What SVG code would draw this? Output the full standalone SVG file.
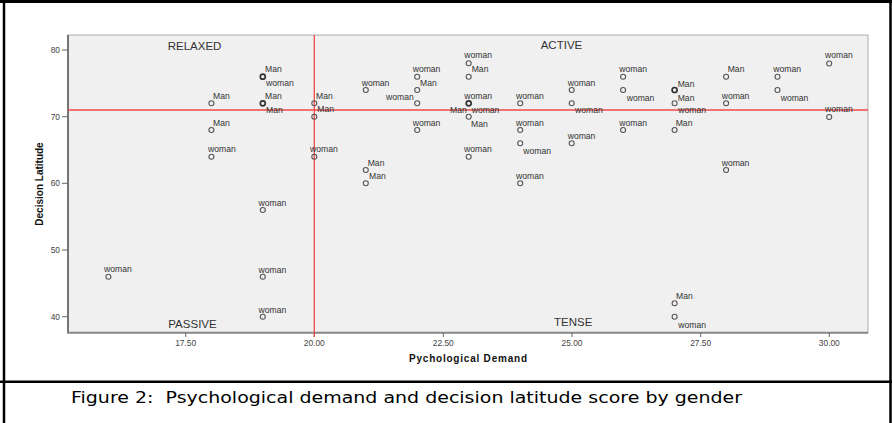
<svg xmlns="http://www.w3.org/2000/svg" width="892" height="423" viewBox="0 0 892 423">
<style>
.lbl{font-family:"Liberation Sans",Arial,sans-serif;font-size:8.6px;fill:#333}
.quad{font-family:"Liberation Sans",Arial,sans-serif;font-size:11.5px;fill:#333}
.tick{font-family:"Liberation Sans",Arial,sans-serif;font-size:8.4px;fill:#444}
.ttl{font-family:"Liberation Sans",Arial,sans-serif;font-size:10px;font-weight:bold;fill:#111}
.pt{fill:none;stroke:#555;stroke-width:1.1}
.ptb{fill:none;stroke:#333;stroke-width:1.7}
.tk{stroke:#666;stroke-width:1}
.ref{stroke:#f04848;stroke-width:1.3}
</style>
<rect x="0" y="0" width="892" height="423" fill="#ffffff"/>
<g id="frame" fill="none" stroke="#000">
<line x1="0" y1="1.5" x2="892" y2="1.5" stroke-width="3"/>
<line x1="4" y1="0" x2="4" y2="423" stroke-width="2.5"/>
<line x1="890.5" y1="0" x2="890.5" y2="423" stroke-width="2.5"/>
<line x1="0" y1="381.7" x2="892" y2="381.7" stroke-width="2.5"/>
</g>
<g id="plot-area">
<rect x="68" y="35" width="800" height="297.7" fill="#f0f0f0" stroke="#999" stroke-width="0.8"/>
<line x1="68" y1="35" x2="68" y2="333" stroke="#555" stroke-width="1.5"/>
<line x1="67" y1="332.7" x2="868" y2="332.7" stroke="#888" stroke-width="2"/>
</g>
<g id="y-axis">
<line class="tk" x1="62" y1="50" x2="68" y2="50"/>
<line class="tk" x1="62" y1="116.7" x2="68" y2="116.7"/>
<line class="tk" x1="62" y1="183.3" x2="68" y2="183.3"/>
<line class="tk" x1="62" y1="250" x2="68" y2="250"/>
<line class="tk" x1="62" y1="316.7" x2="68" y2="316.7"/>
<text class="tick" x="60" y="53" text-anchor="end">80</text>
<text class="tick" x="60" y="119.7" text-anchor="end">70</text>
<text class="tick" x="60" y="186.3" text-anchor="end">60</text>
<text class="tick" x="60" y="253" text-anchor="end">50</text>
<text class="tick" x="60" y="319.7" text-anchor="end">40</text>
<text class="ttl" transform="translate(43,184) rotate(-90)" text-anchor="middle">Decision Latitude</text>
</g>
<g id="x-axis">
<line class="tk" x1="185.7" y1="333" x2="185.7" y2="337"/>
<line class="tk" x1="314.3" y1="333" x2="314.3" y2="337"/>
<line class="tk" x1="443.3" y1="333" x2="443.3" y2="337"/>
<line class="tk" x1="572" y1="333" x2="572" y2="337"/>
<line class="tk" x1="700.7" y1="333" x2="700.7" y2="337"/>
<line class="tk" x1="829.3" y1="333" x2="829.3" y2="337"/>
<text class="tick" x="185.7" y="345.5" text-anchor="middle">17.50</text>
<text class="tick" x="314.3" y="345.5" text-anchor="middle">20.00</text>
<text class="tick" x="443.3" y="345.5" text-anchor="middle">22.50</text>
<text class="tick" x="572" y="345.5" text-anchor="middle">25.00</text>
<text class="tick" x="700.7" y="345.5" text-anchor="middle">27.50</text>
<text class="tick" x="829.3" y="345.5" text-anchor="middle">30.00</text>
<text class="ttl" x="468" y="362" text-anchor="middle" textLength="118" lengthAdjust="spacing">Pychological Demand</text>
</g>
<g id="reference-lines">
<line class="ref" x1="68" y1="110" x2="868" y2="110"/>
<line class="ref" x1="314.3" y1="35" x2="314.3" y2="337"/>
</g>
<g id="quadrants">
<text class="quad" x="167.7" y="50">RELAXED</text>
<text class="quad" x="540.7" y="49">ACTIVE</text>
<text class="quad" x="168.3" y="328">PASSIVE</text>
<text class="quad" x="554" y="325.7">TENSE</text>
</g>
<g id="points">
<circle class="pt" cx="108.4" cy="276.7" r="2.5"/>
<circle class="pt" cx="211.4" cy="103.3" r="2.5"/>
<circle class="pt" cx="211.4" cy="130" r="2.5"/>
<circle class="pt" cx="211.4" cy="156.7" r="2.5"/>
<circle class="ptb" cx="262.8" cy="76.7" r="2.5"/>
<circle class="ptb" cx="262.8" cy="103.3" r="2.5"/>
<circle class="pt" cx="262.8" cy="210" r="2.5"/>
<circle class="pt" cx="262.8" cy="276.7" r="2.5"/>
<circle class="pt" cx="262.8" cy="316.7" r="2.5"/>
<circle class="pt" cx="314.3" cy="103.3" r="2.5"/>
<circle class="pt" cx="314.3" cy="116.7" r="2.5"/>
<circle class="pt" cx="314.3" cy="156.7" r="2.5"/>
<circle class="pt" cx="365.8" cy="90" r="2.5"/>
<circle class="pt" cx="365.8" cy="170" r="2.5"/>
<circle class="pt" cx="365.8" cy="183.3" r="2.5"/>
<circle class="pt" cx="417.2" cy="76.7" r="2.5"/>
<circle class="pt" cx="417.2" cy="90" r="2.5"/>
<circle class="pt" cx="417.2" cy="103.3" r="2.5"/>
<circle class="pt" cx="417.2" cy="130" r="2.5"/>
<circle class="pt" cx="468.7" cy="63.3" r="2.5"/>
<circle class="pt" cx="468.7" cy="76.7" r="2.5"/>
<circle class="ptb" cx="468.7" cy="103.3" r="2.5"/>
<circle class="pt" cx="468.7" cy="116.7" r="2.5"/>
<circle class="pt" cx="468.7" cy="156.7" r="2.5"/>
<circle class="pt" cx="520.2" cy="103.3" r="2.5"/>
<circle class="pt" cx="520.2" cy="130" r="2.5"/>
<circle class="pt" cx="520.2" cy="143.3" r="2.5"/>
<circle class="pt" cx="520.2" cy="183.3" r="2.5"/>
<circle class="pt" cx="571.7" cy="90" r="2.5"/>
<circle class="pt" cx="571.7" cy="103.3" r="2.5"/>
<circle class="pt" cx="571.7" cy="143.3" r="2.5"/>
<circle class="pt" cx="623.1" cy="76.7" r="2.5"/>
<circle class="pt" cx="623.1" cy="90" r="2.5"/>
<circle class="pt" cx="623.1" cy="130" r="2.5"/>
<circle class="ptb" cx="674.6" cy="90" r="2.5"/>
<circle class="pt" cx="674.6" cy="103.3" r="2.5"/>
<circle class="pt" cx="674.6" cy="130" r="2.5"/>
<circle class="pt" cx="674.6" cy="303.3" r="2.5"/>
<circle class="pt" cx="674.6" cy="316.7" r="2.5"/>
<circle class="pt" cx="726.1" cy="76.7" r="2.5"/>
<circle class="pt" cx="726.1" cy="103.3" r="2.5"/>
<circle class="pt" cx="726.1" cy="170" r="2.5"/>
<circle class="pt" cx="777.5" cy="76.7" r="2.5"/>
<circle class="pt" cx="777.5" cy="90" r="2.5"/>
<circle class="pt" cx="829.2" cy="63.5" r="2.5"/>
<circle class="pt" cx="829.2" cy="117" r="2.5"/>
</g>
<g id="point-labels">
<text class="lbl" x="104" y="272">woman</text>
<text class="lbl" x="213" y="98.5">Man</text>
<text class="lbl" x="213" y="125.5">Man</text>
<text class="lbl" x="208" y="151.8">woman</text>
<text class="lbl" x="265" y="71.8">Man</text>
<text class="lbl" x="266" y="86.3">woman</text>
<text class="lbl" x="265" y="98.5">Man</text>
<text class="lbl" x="266" y="113.3">Man</text>
<text class="lbl" x="258.5" y="205.5">woman</text>
<text class="lbl" x="258.5" y="272.8">woman</text>
<text class="lbl" x="258.5" y="312.8">woman</text>
<text class="lbl" x="316" y="98.5">Man</text>
<text class="lbl" x="317.3" y="111.5">Man</text>
<text class="lbl" x="310" y="151.8">woman</text>
<text class="lbl" x="361.7" y="85.5">woman</text>
<text class="lbl" x="367.7" y="165.5">Man</text>
<text class="lbl" x="369" y="178.8">Man</text>
<text class="lbl" x="412.7" y="72">woman</text>
<text class="lbl" x="420" y="85.5">Man</text>
<text class="lbl" x="386" y="99.5">woman</text>
<text class="lbl" x="412.7" y="125.5">woman</text>
<text class="lbl" x="464.3" y="57.8">woman</text>
<text class="lbl" x="471.7" y="71.8">Man</text>
<text class="lbl" x="464.3" y="98.5">woman</text>
<text class="lbl" x="450" y="112.8">Man</text>
<text class="lbl" x="471.7" y="112.8">woman</text>
<text class="lbl" x="471" y="126.8">Man</text>
<text class="lbl" x="464" y="152">woman</text>
<text class="lbl" x="516" y="98.5">woman</text>
<text class="lbl" x="516" y="125.5">woman</text>
<text class="lbl" x="523.3" y="153.5">woman</text>
<text class="lbl" x="516" y="178.5">woman</text>
<text class="lbl" x="567.7" y="85.5">woman</text>
<text class="lbl" x="575" y="113">woman</text>
<text class="lbl" x="567.7" y="138.8">woman</text>
<text class="lbl" x="619.3" y="71.8">woman</text>
<text class="lbl" x="626.7" y="100.5">woman</text>
<text class="lbl" x="619.3" y="125.5">woman</text>
<text class="lbl" x="677.7" y="86.5">Man</text>
<text class="lbl" x="677.7" y="100.5">Man</text>
<text class="lbl" x="678.3" y="113">woman</text>
<text class="lbl" x="675.7" y="125.5">Man</text>
<text class="lbl" x="676" y="298.8">Man</text>
<text class="lbl" x="678.3" y="327.8">woman</text>
<text class="lbl" x="727.7" y="71.8">Man</text>
<text class="lbl" x="721.7" y="98.5">woman</text>
<text class="lbl" x="721.7" y="165.8">woman</text>
<text class="lbl" x="773.3" y="71.8">woman</text>
<text class="lbl" x="780.7" y="100.5">woman</text>
<text class="lbl" x="825" y="58">woman</text>
<text class="lbl" x="825" y="111.8">woman</text>
</g>
<g id="caption">
<text x="71" y="403" xml:space="preserve" textLength="671" lengthAdjust="spacingAndGlyphs" style="font-family:'DejaVu Sans',Verdana,sans-serif;font-size:16.5px;fill:#000">Figure 2:  Psychological demand and decision latitude score by gender</text>
</g>
</svg>
